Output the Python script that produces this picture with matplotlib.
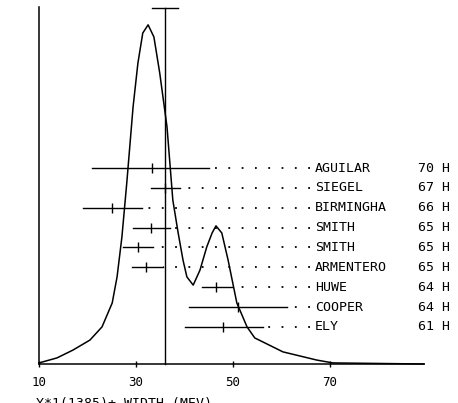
import numpy as np
import matplotlib
matplotlib.use('Agg')
import matplotlib.pyplot as plt

# Spectrum curve (arbitrary intensity units)
curve_x = [10, 13.7, 17.0, 20.5, 23.0, 25.1, 26.1, 27.1, 28.1, 29.4, 30.4, 31.4,
           32.5, 33.7, 34.9, 36.4, 37.6, 38.7, 39.7, 40.5, 41.8, 43.2, 44.6,
           45.7, 46.5, 47.7, 49.0, 50.8, 52.9, 54.5, 60.3, 67.3, 70.6, 89.4]
curve_y = [0.3, 1.7, 3.9, 6.7, 10.4, 17.1, 24.4, 35.6, 50.7, 72.0, 84.3, 92.7,
           95.0, 91.6, 81.5, 66.4, 45.9, 36.7, 29.1, 24.4, 22.1, 26.3, 32.8,
           36.7, 38.7, 36.7, 29.1, 17.1, 10.4, 7.3, 3.4, 1.1, 0.3, 0.0]

# Measurements: name, year, central value, low / high edge of the bar
names = ['AGUILAR', 'SIEGEL', 'BIRMINGHA', 'SMITH', 'SMITH', 'ARMENTERO',
         'HUWE', 'COOPER', 'ELY']
years = [70, 67, 66, 65, 65, 65, 64, 64, 61]
centers = [33.3, 36.0, 25.0, 33.2, 30.4, 32.1, 46.5, 51.0, 47.9]
lows = [20.9, 33.1, 19.1, 29.4, 27.3, 29.2, 43.6, 41.0, 40.1]
highs = [45.0, 39.1, 31.2, 37.0, 33.6, 35.5, 49.8, 61.1, 56.2]

# Average value with its error
avg = 36.0
avg_err = 2.7

xticks = [10, 30, 50, 70]
xlabel = 'Y*1(1385)+ WIDTH (MEV)'

mono = 'DejaVu Sans Mono'

fig = plt.figure(figsize=(4.58, 4.03), dpi=100)
ax = fig.add_axes([39 / 458, 39 / 403, 385 / 458, 357 / 403])
ax.set_xlim(10, 89.4)
ax.set_ylim(0, 100)

ax.plot(curve_x, curve_y, color='black', lw=1.1, clip_on=False)

# average line with cap on top
ax.plot([avg, avg], [0, 99.7], color='black', lw=1.0, clip_on=False)
ax.plot([avg - avg_err, avg + avg_err], [99.7, 99.7], color='black', lw=1.0, clip_on=False)

# rows of measurements
label_x = 65.9
n = len(names)
row_y = [10.4 + 5.56 * (n - 1 - i) for i in range(n)]
for i in range(n):
    y = row_y[i]
    ax.plot([lows[i], highs[i]], [y, y], color='black', lw=1.0, clip_on=False)
    ax.plot([centers[i]], [y], marker='|', ms=7, mew=1.0, color='black', clip_on=False)
    # dotted leader drawn from the label back to the bar so dots line up
    ax.plot([label_x, highs[i]], [y, y], color='black', lw=1.3,
            linestyle=(0, (1, 6.37)), clip_on=False)
    ax.text(label_x + 1.0, y, names[i], fontsize=9.5, family=mono,
            ha='left', va='center', clip_on=False)
    ax.text(88.1, y, f'{years[i]} H', fontsize=9.5, family=mono,
            ha='left', va='center', clip_on=False)

for s in ['top', 'right']:
    ax.spines[s].set_visible(False)
ax.spines['left'].set_linewidth(1.1)
ax.spines['bottom'].set_linewidth(1.1)

ax.set_yticks([])
ax.set_xticks(xticks)
ax.set_xticklabels([str(t) for t in xticks], family=mono, fontsize=9)
ax.tick_params(axis='x', direction='inout', length=5, width=1.0, pad=6)

# axis title, cut at the bottom edge as in the original scan
fig.text(36 / 458, 6 / 403, xlabel, family=mono, fontsize=9.5, ha='left', va='top')

fig.savefig('out.png', dpi=100)
